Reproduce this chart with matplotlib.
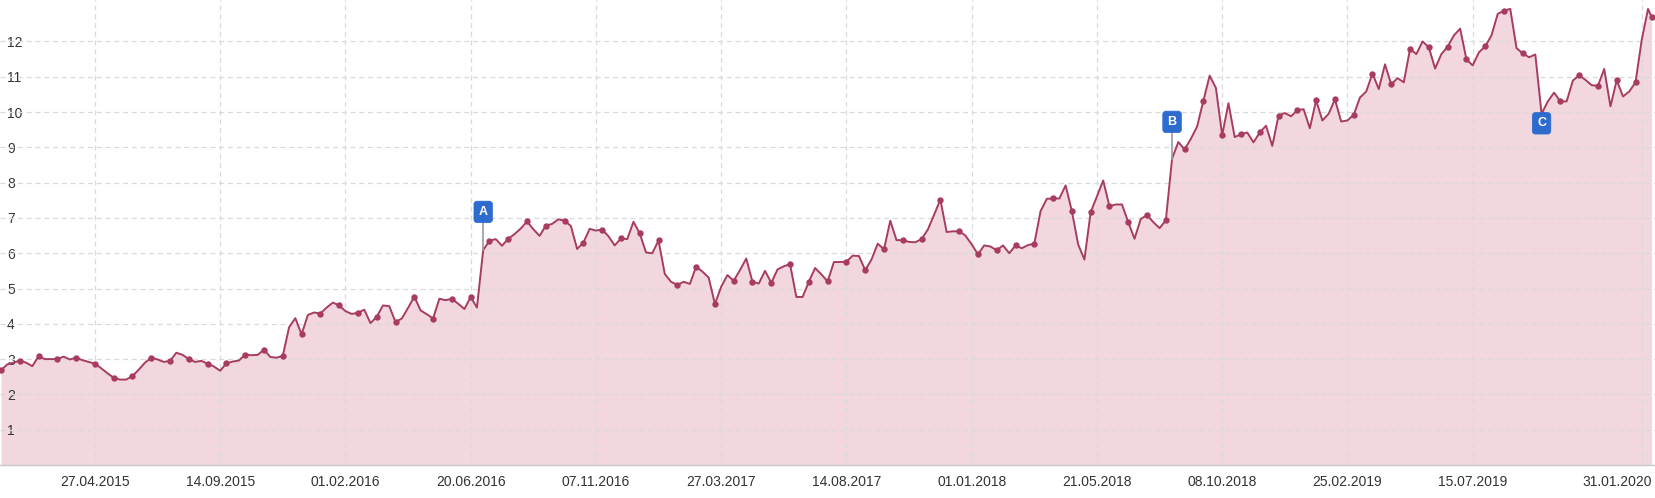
import matplotlib
matplotlib.use("Agg")
import matplotlib.pyplot as plt
import pandas as pd

plt.rcParams['font.family'] = ['Liberation Sans', 'DejaVu Sans']

# ---- data (weekly values, Mondays from 12.01.2015, plus final point 31.01.2020) ----
start_date = '2015-01-12'
final_date = '2020-01-31'
weekly_values = [
    2.68, 2.85, 2.90, 2.96, 2.90, 2.80, 3.08, 3.00, 3.00, 3.00,   # 0-9
    3.07, 2.99, 3.04, 2.97, 2.92, 2.87, 2.74, 2.60, 2.47, 2.42,   # 10-19
    2.42, 2.52, 2.70, 2.90, 3.04, 2.99, 2.92, 2.95, 3.18, 3.12,   # 20-29
    3.00, 2.92, 2.95, 2.87, 2.79, 2.67, 2.88, 2.93, 2.96, 3.13,   # 30-39
    3.11, 3.12, 3.27, 3.06, 3.04, 3.09, 3.90, 4.16, 3.70, 4.25,   # 40-49
    4.32, 4.29, 4.46, 4.60, 4.52, 4.36, 4.28, 4.31, 4.40, 4.02,   # 50-59
    4.20, 4.52, 4.50, 4.05, 4.15, 4.45, 4.77, 4.38, 4.27, 4.15,   # 60-69
    4.71, 4.67, 4.71, 4.57, 4.42, 4.76, 4.46, 6.09, 6.35, 6.40,   # 70-79
    6.21, 6.41, 6.54, 6.70, 6.90, 6.68, 6.49, 6.78, 6.83, 6.96,   # 80-89
    6.92, 6.77, 6.12, 6.30, 6.69, 6.64, 6.67, 6.48, 6.22, 6.42,   # 90-99
    6.40, 6.89, 6.56, 6.02, 6.00, 6.36, 5.41, 5.19, 5.10, 5.19,   # 100-109
    5.13, 5.62, 5.48, 5.31, 4.56, 5.05, 5.38, 5.22, 5.52, 5.85,   # 110-119
    5.19, 5.14, 5.50, 5.16, 5.54, 5.63, 5.69, 4.76, 4.76, 5.19,   # 120-129
    5.58, 5.40, 5.20, 5.75, 5.75, 5.76, 5.93, 5.92, 5.52, 5.82,   # 130-139
    6.27, 6.11, 6.92, 6.37, 6.37, 6.32, 6.31, 6.40, 6.67, 7.09,   # 140-149
    7.52, 6.60, 6.62, 6.62, 6.50, 6.25, 5.97, 6.22, 6.19, 6.08,   # 150-159
    6.22, 6.00, 6.22, 6.14, 6.23, 6.27, 7.19, 7.54, 7.55, 7.55,   # 160-169
    7.92, 7.19, 6.25, 5.82, 7.16, 7.61, 8.06, 7.33, 7.38, 7.38,   # 170-179
    6.88, 6.41, 6.97, 7.08, 6.88, 6.71, 6.93, 8.68, 9.15, 8.94,   # 180-189
    9.24, 9.59, 10.32, 11.03, 10.68, 9.34, 10.25, 9.29, 9.37, 9.42,  # 190-199
    9.14, 9.42, 9.61, 9.04, 9.90, 9.97, 9.88, 10.05, 10.08, 9.54,  # 200-209
    10.33, 9.76, 9.95, 10.36, 9.73, 9.76, 9.92, 10.41, 10.58, 11.09,  # 210-219
    10.65, 11.35, 10.78, 10.96, 10.84, 11.79, 11.64, 12.00, 11.83, 11.23,  # 220-229
    11.64, 11.85, 12.17, 12.36, 11.49, 11.32, 11.69, 11.86, 12.17, 12.78,  # 230-239
    12.87, 12.92, 11.81, 11.66, 11.55, 11.63, 9.95, 10.30, 10.55, 10.30,  # 240-249
    10.30, 10.89, 11.04, 10.91, 10.76, 10.74, 11.22, 10.16, 10.90, 10.44,  # 250-259
    10.58, 10.84, 12.05, 12.92,                                      # 260-263
]
final_value = 12.69

events = ['A', 'B', 'C']
event_index = [77, 187, 246]
event_flag_y = [7.17, 9.72, 9.68]

y_ticks = list(range(1, 13))
x_tick_dates = ['2015-04-27', '2015-09-14', '2016-02-01', '2016-06-20', '2016-11-07',
                '2017-03-27', '2017-08-14', '2018-01-01', '2018-05-21', '2018-10-08',
                '2019-02-25', '2019-07-15', '2020-01-31']
x_grid_dates = ['2015-04-27', '2015-09-14', '2016-02-01', '2016-06-20', '2016-11-07',
                '2017-03-27', '2017-08-14', '2018-01-01', '2018-05-21', '2018-10-08',
                '2019-02-25', '2019-07-15', '2020-01-20']

# ---- build series ----
dates = pd.date_range(start_date, periods=len(weekly_values), freq='7D')
dates = dates.append(pd.DatetimeIndex([final_date]))
values = weekly_values + [final_value]

LINE = '#a83c5f'
FILL = '#f2d8de'
GRID = '#dadada'
TEXT = '#333333'
FLAG = '#2d6bcf'

fig = plt.figure(figsize=(16.56, 4.98), dpi=100)
ax = fig.add_axes([0, 33 / 498, 1, 465 / 498])

ref = pd.Timestamp('2016-06-20')
ax.set_xlim(ref - pd.Timedelta(days=526.1), ref + pd.Timedelta(days=1324.9))
ax.set_ylim(0, 465 / 35.3)

ax.fill_between(dates, values, 0, color=FILL, lw=0, zorder=1)
marks = list(range(0, len(weekly_values), 3)) + [len(values) - 1]
ax.plot(dates, values, color=LINE, lw=1.4, marker='o', ms=4.6,
        markevery=marks, markeredgewidth=0, zorder=3)

# gridlines
for yv in y_ticks:
    ax.axhline(yv, color=GRID, lw=0.9, dashes=(4, 3), zorder=2)
for d in pd.to_datetime(x_grid_dates):
    ax.axvline(d, color=GRID, lw=0.9, dashes=(4, 3), zorder=2)

# axes styling
for s in ['top', 'right', 'left']:
    ax.spines[s].set_visible(False)
ax.spines['bottom'].set_color('#c8c8c8')
ax.spines['bottom'].set_linewidth(1.0)

ax.set_yticks(y_ticks)
ax.set_yticklabels([str(v) for v in y_ticks])
ax.tick_params(axis='y', length=0, pad=-5, labelsize=10, labelcolor=TEXT)
for lab in ax.get_yticklabels():
    lab.set_horizontalalignment('left')

xt = pd.to_datetime(x_tick_dates)
ax.set_xticks(xt)
ax.set_xticklabels([d.strftime('%d.%m.%Y') for d in xt])
ax.tick_params(axis='x', length=0, pad=7, labelsize=10, labelcolor=TEXT)
xl = ax.get_xticklabels()
xl[-1].set_horizontalalignment('right')

# event flags
for name, idx, fy in zip(events, event_index, event_flag_y):
    px = dates[idx]
    py = values[idx]
    if fy > py:
        ax.plot([px, px], [py, fy - 0.25], color='#9a9a9a', lw=1.2, zorder=4)
    ax.text(px, fy, name, ha='center', va='center', color='white',
            fontsize=9, fontweight='bold', zorder=6,
            bbox=dict(boxstyle='round,pad=0.38,rounding_size=0.25',
                      fc=FLAG, ec=FLAG, lw=0.5))

fig.savefig('out.png', dpi=100)
